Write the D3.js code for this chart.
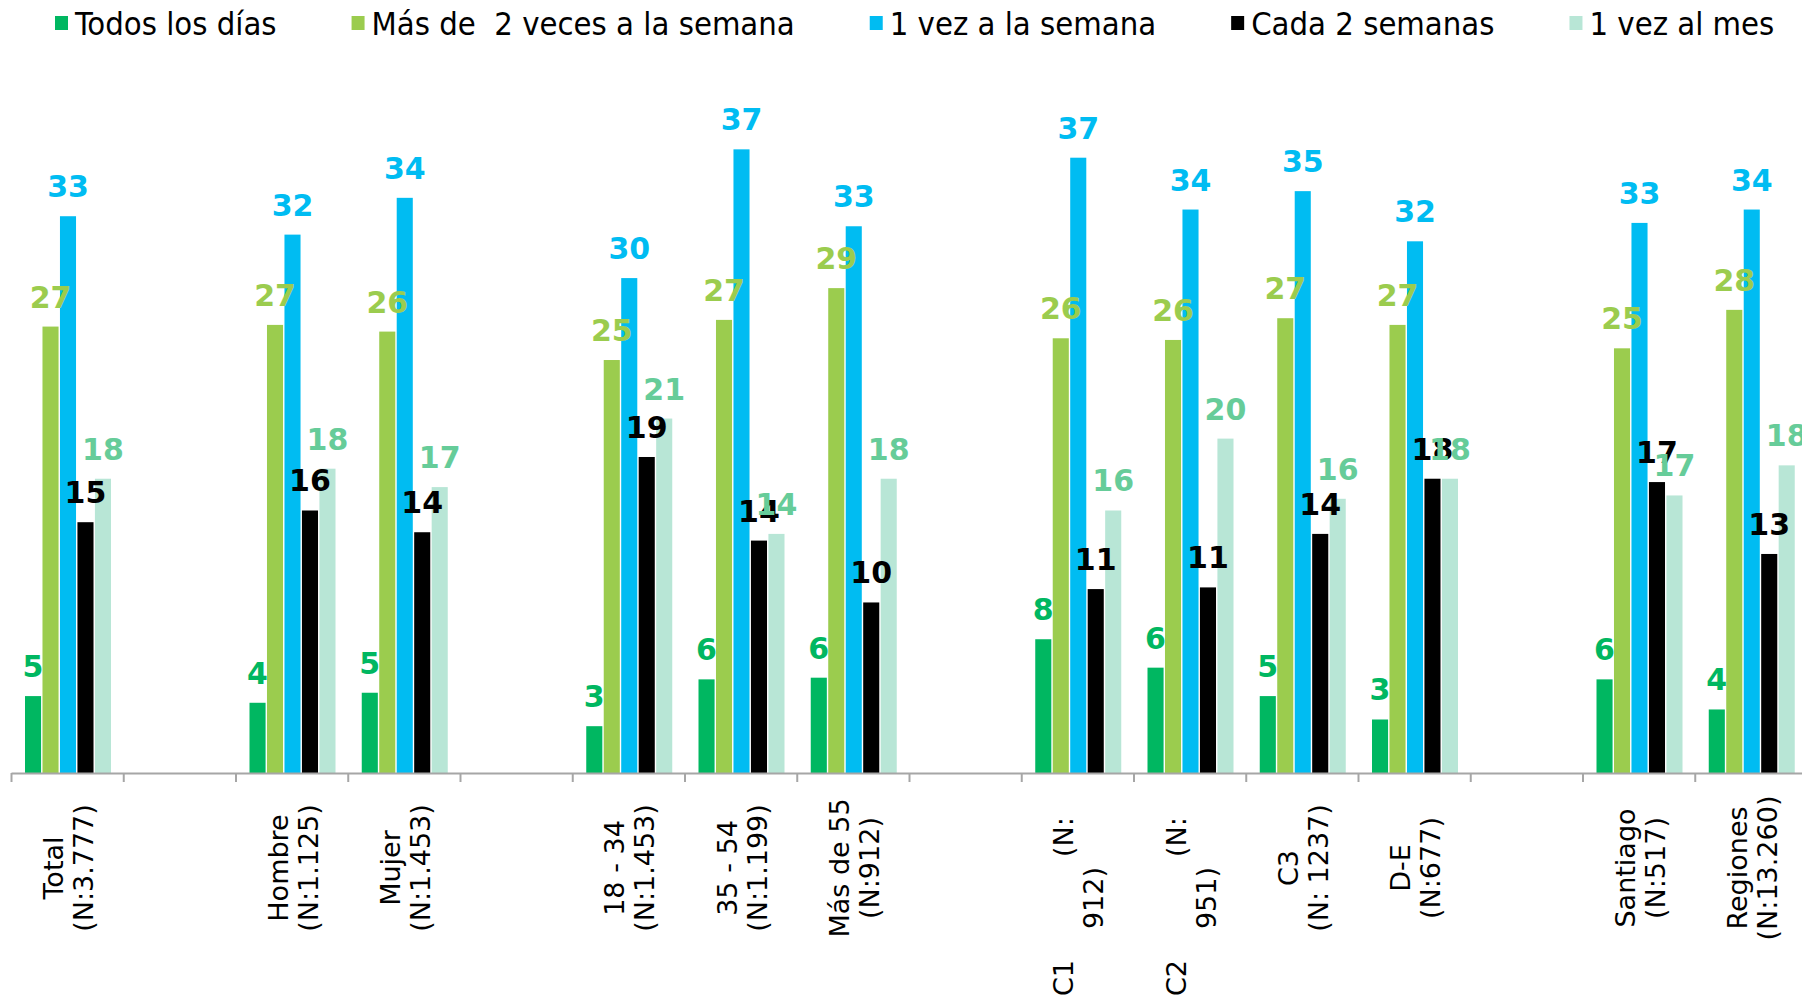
<!DOCTYPE html>
<html>
<head>
<meta charset="utf-8">
<script src="https://cdn.jsdelivr.net/npm/d3@7/dist/d3.min.js"></script>
<style>
  body { margin: 0; background: #fff; }
  svg { display: block; }
  .legend text { font-family: "DejaVu Sans Condensed", "DejaVu Sans", sans-serif; font-stretch: condensed; font-size: 32.5px; }
  .cat text { font-family: "DejaVu Sans", Verdana, sans-serif; font-size: 27px; white-space: pre; }
  .val { font-family: "DejaVu Sans", Verdana, sans-serif; font-size: 30px; font-weight: bold; }
</style>
</head>
<body>
<svg id="chart" width="1802" height="1001"></svg>
<script>
// categories (empty ones are the gaps between groups)
const categories = [
  ["Total", "(N:3.777)"], [],
  ["Hombre", "(N:1.125)"], ["Mujer", "(N:1.453)"], [],
  ["18 - 34", "(N:1.453)"], ["35 - 54", "(N:1.199)"], ["Más de 55", "(N:912)"], [],
  ["C1            (N:         ", "912)       "], ["C2            (N:         ", "951)       "],
  ["C3", "(N: 1237)"], ["D-E", "(N:677)"], [],
  ["Santiago", "(N:517)"], ["Regiones", "(N:13.260)"]
];

const seriesNames = ["Todos los días", "Más de  2 veces a la semana", "1 vez a la semana", "Cada 2 semanas", "1 vez al mes"];

const todos   = [4.6, null, 4.2, 4.8, null, 2.8, 5.6, 5.7, null, 8.0, 6.3, 4.6, 3.2, null, 5.6, 3.8];
const masDe2  = [26.7, null, 26.8, 26.4, null, 24.7, 27.1, 29.0, null, 26.0, 25.9, 27.2, 26.8, null, 25.4, 27.7];
const unaVez  = [33.3, null, 32.2, 34.4, null, 29.6, 37.3, 32.7, null, 36.8, 33.7, 34.8, 31.8, null, 32.9, 33.7];
const cada2   = [15.0, null, 15.7, 14.4, null, 18.9, 13.9, 10.2, null, 11.0, 11.1, 14.3, 17.6, null, 17.4, 13.1];
const alMes   = [17.6, null, 18.2, 17.1, null, 21.2, 14.3, 17.6, null, 15.7, 20.0, 16.4, 17.6, null, 16.6, 18.4];

const seriesValues = [todos, masDe2, unaVez, cada2, alMes];
const barColors   = ["#00b761", "#9bcc4e", "#00bcf2", "#000000", "#b8e6d6"];
const labelColors = ["#00b761", "#9bcc4e", "#00bcf2", "#000000", "#66cc99"];

const svg = d3.select("#chart");
const baseY = 773;

const x = d3.scaleBand().domain(d3.range(categories.length)).range([11, 1807]);
const xb = d3.scaleBand().domain(d3.range(seriesNames.length)).range([14, 100]).paddingInner(0.08);
const y = d3.scaleLinear().domain([0, 40]).range([baseY, baseY - 40 * 16.72]);

// bars
const series = svg.selectAll("g.series").data(seriesValues).join("g").attr("class", "series")
  .attr("fill", (d, i) => barColors[i]);
series.selectAll("rect")
  .data((vals, si) => vals.map((v, ci) => ({v, ci, si})).filter(d => d.v != null))
  .join("rect")
  .attr("x", d => x(d.ci) + xb(d.si))
  .attr("width", xb.bandwidth())
  .attr("y", d => y(d.v))
  .attr("height", d => baseY - y(d.v));

// value labels
const fmt = d3.format(".0f");
svg.selectAll("g.labels").data(seriesValues).join("g").attr("class", "labels")
  .attr("fill", (d, i) => labelColors[i])
  .selectAll("text")
  .data((vals, si) => vals.map((v, ci) => ({v, ci, si})).filter(d => d.v != null))
  .join("text")
  .attr("class", "val")
  .attr("text-anchor", "middle")
  .attr("x", d => x(d.ci) + xb(d.si) + xb.bandwidth() / 2)
  .attr("y", d => y(d.v) - 19)
  .text(d => fmt(d.v));

// axis: ticks on category boundaries
const xEdge = d3.scaleLinear().domain([0, categories.length]).range([11, 1807]);
const axis = svg.append("g").attr("transform", `translate(0,${baseY})`)
  .call(d3.axisBottom(xEdge).ticks(categories.length).tickSize(9).tickFormat("").tickSizeOuter(0));
axis.selectAll("path, line").attr("stroke", "#a6a6a6").attr("stroke-width", 2);

// category labels, rotated
const cat = svg.append("g").attr("class", "cat");
categories.forEach((lines, ci) => {
  if (!lines.length) return;
  const cx = x(ci) + x.bandwidth() / 2 + 2;
  const t = cat.append("text")
    .attr("transform", `translate(${cx},868) rotate(-90)`)
    .attr("text-anchor", "middle")
    .attr("xml:space", "preserve");
  lines.forEach((ln, li) => {
    t.append("tspan").attr("x", 0)
      .attr("dy", li === 0 ? -(lines.length - 1) * 15 + 9 : 30)
      .text(ln);
  });
});

// legend
const legend = svg.append("g").attr("class", "legend");
let lx = 55;
seriesNames.forEach((name, i) => {
  legend.append("rect").attr("x", lx).attr("y", 16).attr("width", 13).attr("height", 14).attr("fill", barColors[i]);
  const t = legend.append("text").attr("x", lx + 20).attr("y", 35).attr("xml:space", "preserve").text(name);
  lx += 20 + t.node().getComputedTextLength() + 75;
});
</script>
</body>
</html>
